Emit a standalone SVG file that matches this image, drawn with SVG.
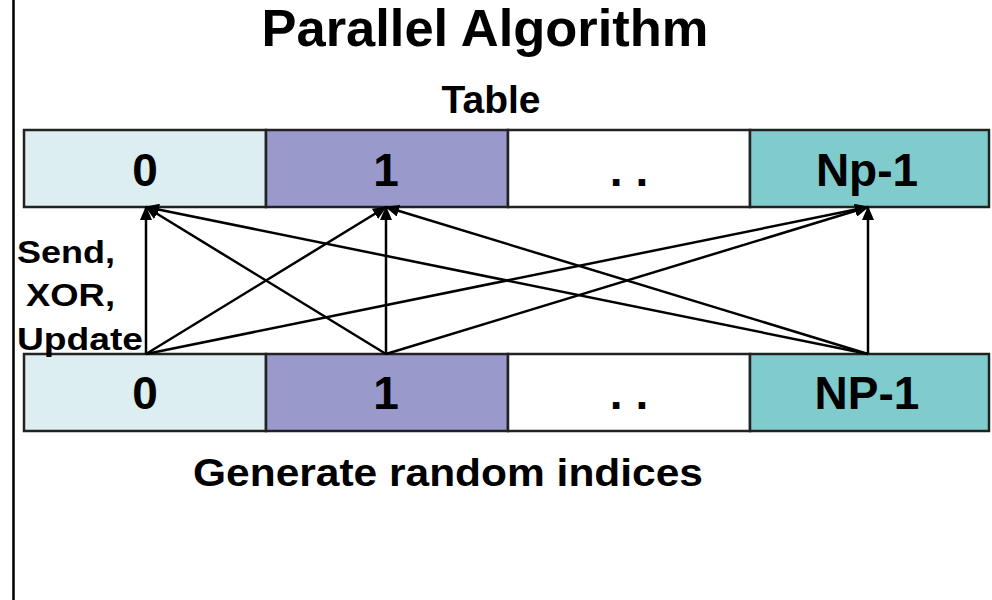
<svg xmlns="http://www.w3.org/2000/svg" width="992" height="600" viewBox="0 0 992 600">
  <style>
    text { font-family: "Liberation Sans", Arial, sans-serif; font-weight: bold; fill: #000; }
    .cell { stroke: #222; stroke-width: 2.5; }
    .c0 { fill: #DCEEF0; }
    .c1 { fill: #9999CC; }
    .c2 { fill: #FFFFFF; }
    .c3 { fill: #80CCCC; }
    .lbl { font-size: 46px; text-anchor: middle; }
    .side { font-size: 32px; }
    .conn line { stroke: #000; stroke-width: 2.5; marker-end: url(#ah); }
  </style>
  <defs>
    <marker id="ah" markerUnits="userSpaceOnUse" markerWidth="14" markerHeight="12" viewBox="0 0 14 12" refX="13" refY="6" orient="auto">
      <path d="M0,0 L14,6 L0,12 z" fill="#000"/>
    </marker>
  </defs>
  <rect width="992" height="600" fill="#fff"/>
  <line x1="13.5" y1="0" x2="13.5" y2="600" stroke="#000" stroke-width="2.5"/>

  <text id="title" x="485" y="46" font-size="52" text-anchor="middle" textLength="447" lengthAdjust="spacingAndGlyphs">Parallel Algorithm</text>
  <text id="table-label" x="491" y="113" font-size="39" text-anchor="middle">Table</text>

  <g id="table-0"><rect class="cell c0" x="24" y="130" width="242" height="77"/><text class="lbl" x="145" y="186">0</text></g>
  <g id="table-1"><rect class="cell c1" x="266" y="130" width="242" height="77"/><text class="lbl" x="386" y="186">1</text></g>
  <g id="table-dots"><rect class="cell c2" x="508" y="130" width="242" height="77"/><text class="lbl" x="629" y="186">. .</text></g>
  <g id="table-np"><rect class="cell c3" x="750" y="130" width="239" height="77"/><text class="lbl" x="867" y="186">Np-1</text></g>

  <g id="gen-0"><rect class="cell c0" x="24" y="354" width="242" height="77"/><text class="lbl" x="145" y="409">0</text></g>
  <g id="gen-1"><rect class="cell c1" x="266" y="354" width="242" height="77"/><text class="lbl" x="386" y="409">1</text></g>
  <g id="gen-dots"><rect class="cell c2" x="508" y="354" width="242" height="77"/><text class="lbl" x="629" y="409">. .</text></g>
  <g id="gen-np"><rect class="cell c3" x="750" y="354" width="239" height="77"/><text class="lbl" x="867" y="409">NP-1</text></g>

  <g id="side-label">
    <text class="side" x="17" y="263" textLength="98" lengthAdjust="spacingAndGlyphs">Send,</text>
    <text class="side" x="26" y="306" textLength="89" lengthAdjust="spacingAndGlyphs">XOR,</text>
    <text class="side" x="17" y="350" textLength="126" lengthAdjust="spacingAndGlyphs">Update</text>
  </g>

  <text id="gen-label" x="448" y="486" font-size="39" text-anchor="middle" textLength="510" lengthAdjust="spacingAndGlyphs">Generate random indices</text>

  <g class="conn" id="connectors">
    <line x1="146" y1="354" x2="146" y2="207"/>
    <line x1="146" y1="354" x2="386" y2="207"/>
    <line x1="146" y1="354" x2="868" y2="207"/>
    <line x1="386" y1="354" x2="146" y2="207"/>
    <line x1="386" y1="354" x2="386" y2="207"/>
    <line x1="386" y1="354" x2="868" y2="207"/>
    <line x1="868" y1="354" x2="146" y2="207"/>
    <line x1="868" y1="354" x2="386" y2="207"/>
    <line x1="868" y1="354" x2="868" y2="207"/>
  </g>
</svg>
